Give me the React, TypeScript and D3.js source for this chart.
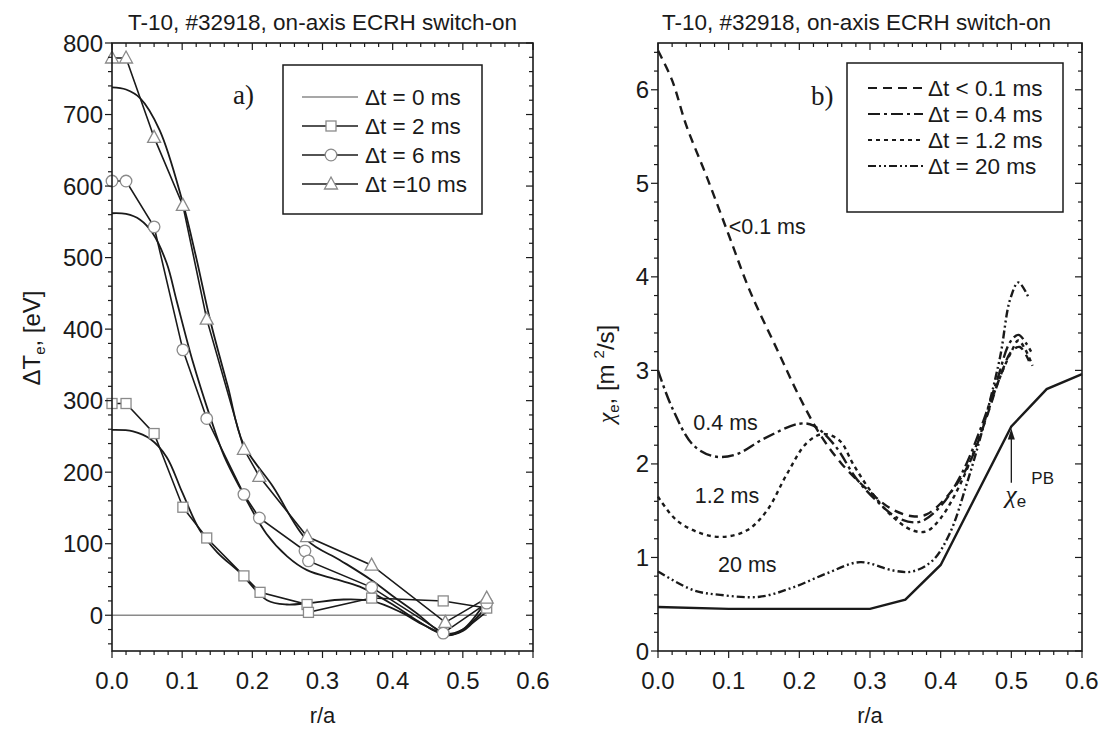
import React from "react";
import * as d3 from "d3";

const W = 1109;
const H = 743;

// ---- panel a): r/a vs ΔTe [eV] ----
const dt0Line: [number, number][] = [[0, 0], [0.534, 0]];
const dt2Markers: [number, number][] = [
  [0, 296], [0.02, 296], [0.06, 254], [0.101, 151], [0.135, 108], [0.188, 55],
  [0.211, 32], [0.278, 15], [0.28, 4], [0.37, 24], [0.472, 20], [0.534, 10],
];
const dt2Fit: [number, number][] = [
  [0, 259], [0.03, 257], [0.055, 246], [0.078, 221], [0.1, 172], [0.125, 119],
  [0.15, 88], [0.183, 59], [0.221, 21], [0.249, 15], [0.28, 17], [0.33, 22],
  [0.37, 20], [0.41, 5], [0.445, -14], [0.475, -26], [0.5, -20], [0.534, 12],
];
const dt6Markers: [number, number][] = [
  [0, 607], [0.02, 607], [0.06, 543], [0.101, 371], [0.135, 275], [0.188, 169],
  [0.21, 136], [0.275, 90], [0.28, 76], [0.37, 39], [0.472, -25], [0.534, 17],
];
const dt6Fit: [number, number][] = [
  [0, 562], [0.02, 561], [0.04, 553], [0.058, 534], [0.078, 492], [0.092, 440],
  [0.115, 355], [0.14, 277], [0.16, 222], [0.182, 179], [0.22, 114], [0.25, 82],
  [0.278, 63], [0.32, 50], [0.353, 40], [0.4, 15], [0.434, -7], [0.46, -22],
  [0.477, -28], [0.5, -22], [0.515, -10], [0.534, 5],
];
const dt10Markers: [number, number][] = [
  [0, 779], [0.02, 779], [0.06, 668], [0.101, 573], [0.135, 414], [0.188, 232],
  [0.21, 194], [0.278, 110], [0.37, 70], [0.475, -10], [0.534, 24],
];
const dt10Fit: [number, number][] = [
  [0, 738], [0.02, 735], [0.04, 723], [0.068, 678], [0.1, 580], [0.12, 500],
  [0.14, 412], [0.165, 320], [0.187, 240], [0.23, 179], [0.278, 105], [0.325, 77],
  [0.37, 49], [0.4, 27], [0.434, 3], [0.46, -18], [0.477, -28], [0.5, -20], [0.534, 21],
];
const legendA = ["\u0394t = 0 ms", "\u0394t = 2 ms", "\u0394t = 6 ms", "\u0394t =10 ms"];

// ---- panel b): r/a vs χe [m2/s] ----
const chi01: [number, number][] = [
  [0, 6.42], [0.02, 6.1], [0.04, 5.62], [0.07, 5.05], [0.1, 4.45], [0.13, 3.85],
  [0.17, 3.2], [0.2, 2.72], [0.229, 2.32], [0.26, 2.0], [0.3, 1.7], [0.33, 1.52],
  [0.36, 1.44], [0.38, 1.46], [0.41, 1.66], [0.44, 2.0], [0.465, 2.5], [0.485, 2.95],
  [0.5, 3.2], [0.512, 3.25], [0.525, 3.1],
];
const chi04: [number, number][] = [
  [0, 3.0], [0.02, 2.6], [0.05, 2.2], [0.08, 2.08], [0.11, 2.1], [0.15, 2.27],
  [0.2, 2.43], [0.22, 2.41], [0.25, 2.2], [0.28, 1.85], [0.31, 1.6], [0.34, 1.42],
  [0.37, 1.38], [0.4, 1.55], [0.43, 1.9], [0.46, 2.45], [0.48, 2.9], [0.498, 3.3],
  [0.51, 3.38], [0.52, 3.3], [0.528, 3.2],
];
const chi12: [number, number][] = [
  [0, 1.65], [0.026, 1.4], [0.06, 1.26], [0.092, 1.22], [0.126, 1.29], [0.154, 1.5],
  [0.183, 1.9], [0.21, 2.22], [0.233, 2.32], [0.257, 2.25], [0.276, 2.0], [0.3, 1.72],
  [0.33, 1.45], [0.36, 1.29], [0.38, 1.28], [0.4, 1.42], [0.43, 1.82], [0.46, 2.4],
  [0.48, 2.85], [0.5, 3.2], [0.51, 3.32], [0.52, 3.22], [0.53, 3.05],
];
const chi20: [number, number][] = [
  [0, 0.85], [0.05, 0.65], [0.088, 0.6], [0.144, 0.58], [0.191, 0.68], [0.239, 0.83],
  [0.286, 0.95], [0.333, 0.86], [0.36, 0.85], [0.389, 0.97], [0.413, 1.26],
  [0.437, 1.79], [0.46, 2.39], [0.484, 3.14], [0.498, 3.75], [0.51, 3.94], [0.525, 3.77],
];
const chiPB: [number, number][] = [
  [0, 0.47], [0.1, 0.45], [0.2, 0.45], [0.3, 0.45], [0.35, 0.55], [0.4, 0.92],
  [0.5, 2.4], [0.55, 2.8], [0.6, 2.96],
];
const legendB = ["\u0394t < 0.1 ms", "\u0394t = 0.4 ms", "\u0394t = 1.2 ms", "\u0394t =  20 ms"];
const curveLabelsB = ["<0.1 ms", "0.4 ms", "1.2 ms", "20 ms"];
const curveLabelPosB: [number, number][] = [[0.1, 4.46], [0.05, 2.36], [0.052, 1.58], [0.085, 0.84]];
const dashesB = ["9 6", "12 4 3 4", "4 4", "8 3 2 3 2 3"];
const pbArrow: [number, number] = [1.8, 2.38]; // χe^PB pointer (from, to) at r/a = 0.5

const xTicks = [0, 0.1, 0.2, 0.3, 0.4, 0.5, 0.6];
const yTicksA = [0, 100, 200, 300, 400, 500, 600, 700, 800];
const yTicksB = [0, 1, 2, 3, 4, 5, 6];

const SANS = "'Liberation Sans', Arial, sans-serif";
const SERIF = "'Liberation Serif', 'Times New Roman', serif";
const INK = "#1a1a1a";
const GREY = "#8a8a8a";

type Scale = d3.ScaleLinear<number, number>;

function Frame({ x, y, yTicks, yMinorStep }: { x: Scale; y: Scale; yTicks: number[]; yMinorStep: number }) {
  const [xl, xr] = x.range();
  const [yb, yt] = y.range();
  const xMinor = d3.range(0, 0.6001, 0.02);
  const [d0, d1] = y.domain();
  const yMinor = d3.range(Math.ceil(d0 / yMinorStep) * yMinorStep, d1 + 1e-6, yMinorStep);
  const isMajorX = (v: number) => Math.abs(v * 10 - Math.round(v * 10)) < 1e-6;
  const isMajorY = (v: number) => yTicks.some((t) => Math.abs(t - v) < 1e-6);
  return (
    <g stroke={INK}>
      <rect x={xl} y={yt} width={xr - xl} height={yb - yt} fill="none" strokeWidth={1.6} />
      {xMinor.map((v, i) => {
        const L = isMajorX(v) ? 7 : 4;
        const px = x(v);
        return (
          <g key={"x" + i} strokeWidth={1.2}>
            <line x1={px} x2={px} y1={yb} y2={yb + L} />
            <line x1={px} x2={px} y1={yt} y2={yt + L} />
          </g>
        );
      })}
      {yMinor.map((v, i) => {
        const L = isMajorY(v) ? 7 : 4;
        const py = y(v);
        return (
          <g key={"y" + i} strokeWidth={1.2}>
            <line x1={xl - L} x2={xl} y1={py} y2={py} />
            <line x1={xr - L} x2={xr} y1={py} y2={py} />
          </g>
        );
      })}
      <g stroke="none" fill={INK} fontFamily={SANS}>
        {xTicks.map((t) => (
          <text key={"xl" + t} x={x(t)} y={yb + 38} textAnchor="middle" fontSize={24}>
            {d3.format(".1f")(t)}
          </text>
        ))}
        {yTicks.map((t) => (
          <text key={"yl" + t} x={xl - 9} y={y(t) + 8.5} textAnchor="end" fontSize={24}>
            {t}
          </text>
        ))}
        <text x={(xl + xr) / 2} y={yb + 72} textAnchor="middle" fontSize={22}>
          r/a
        </text>
      </g>
    </g>
  );
}

function Square({ cx, cy }: { cx: number; cy: number }) {
  return <rect x={cx - 5} y={cy - 5} width={10} height={10} fill="white" stroke={GREY} strokeWidth={1.3} />;
}
function Circle({ cx, cy }: { cx: number; cy: number }) {
  return <circle cx={cx} cy={cy} r={5.8} fill="white" stroke={GREY} strokeWidth={1.3} />;
}
function Triangle({ cx, cy }: { cx: number; cy: number }) {
  return (
    <path
      d={`M${cx},${cy - 7}L${cx + 6.5},${cy + 5}L${cx - 6.5},${cy + 5}Z`}
      fill="white"
      stroke={GREY}
      strokeWidth={1.3}
    />
  );
}

function PanelA() {
  const x = d3.scaleLinear().domain([0, 0.6]).range([112, 533]);
  const y = d3.scaleLinear().domain([-50, 800]).range([651, 43]);
  const straight = d3.line<[number, number]>().x((d) => x(d[0])).y((d) => y(d[1]));
  const smooth = d3
    .line<[number, number]>()
    .x((d) => x(d[0]))
    .y((d) => y(d[1]))
    .curve(d3.curveCatmullRom.alpha(0.5));
  const markerSets = [
    { data: dt2Markers, M: Square },
    { data: dt6Markers, M: Circle },
    { data: dt10Markers, M: Triangle },
  ];
  return (
    <g>
      <text x={128} y={30} fontFamily={SANS} fontSize={22.5} fill={INK}>
        T-10, #32918, on-axis ECRH switch-on
      </text>
      <path d={straight(dt0Line) || ""} stroke={GREY} strokeWidth={1.5} fill="none" />
      {[dt2Fit, dt6Fit, dt10Fit].map((d, i) => (
        <path key={"f" + i} d={smooth(d) || ""} stroke={INK} strokeWidth={1.8} fill="none" />
      ))}
      {markerSets.map((s, i) => (
        <path key={"m" + i} d={straight(s.data) || ""} stroke={INK} strokeWidth={1.6} fill="none" />
      ))}
      {markerSets.map((s, i) =>
        s.data.map((d, j) => <s.M key={i + "-" + j} cx={x(d[0])} cy={y(d[1])} />)
      )}
      <Frame x={x} y={y} yTicks={yTicksA} yMinorStep={20} />
      <text transform="translate(40,338) rotate(-90)" textAnchor="middle" fontFamily={SANS} fontSize={24} fill={INK}>
        {"\u0394T"}
        <tspan fontSize={15} dy={5}>e</tspan>
        <tspan dy={-5}>, [eV]</tspan>
      </text>
      <text x={233} y={104} fontFamily={SERIF} fontSize={27} fill={INK}>
        a)
      </text>
      <g>
        <rect x={283} y={65} width={199} height={149} fill="white" stroke={INK} strokeWidth={1.5} />
        {legendA.map((label, i) => {
          const cy = 97 + i * 29;
          const M = i === 1 ? Square : i === 2 ? Circle : i === 3 ? Triangle : null;
          return (
            <g key={label}>
              <line x1={302} x2={358} y1={cy} y2={cy} stroke={i === 0 ? GREY : INK} strokeWidth={1.5} />
              {M && <M cx={331} cy={cy} />}
              <text x={365} y={cy + 8} fontFamily={SANS} fontSize={22.5} fill={INK}>
                {label}
              </text>
            </g>
          );
        })}
      </g>
    </g>
  );
}

function PanelB() {
  const x = d3.scaleLinear().domain([0, 0.6]).range([658, 1082]);
  const y = d3.scaleLinear().domain([0, 6.5]).range([651, 43]);
  const smooth = d3
    .line<[number, number]>()
    .x((d) => x(d[0]))
    .y((d) => y(d[1]))
    .curve(d3.curveCatmullRom.alpha(0.5));
  const straight = d3.line<[number, number]>().x((d) => x(d[0])).y((d) => y(d[1]));
  const series = [chi01, chi04, chi12, chi20];
  const ax = x(0.5);
  const aFrom = y(pbArrow[0]);
  const aTo = y(pbArrow[1]);
  return (
    <g>
      <text x={662} y={30} fontFamily={SANS} fontSize={22.5} fill={INK}>
        T-10, #32918, on-axis ECRH switch-on
      </text>
      <path d={straight(chiPB) || ""} stroke={INK} strokeWidth={2.4} fill="none" />
      {series.map((d, i) => (
        <path
          key={"s" + i}
          d={smooth(d) || ""}
          stroke={INK}
          strokeWidth={2.4}
          strokeDasharray={dashesB[i]}
          fill="none"
        />
      ))}
      <g fontFamily={SANS} fontSize={21.5} fill={INK}>
        {curveLabelsB.map((t, i) => (
          <text key={t} x={x(curveLabelPosB[i][0])} y={y(curveLabelPosB[i][1])}>
            {t}
          </text>
        ))}
      </g>
      {/* arrow to chi_e^PB */}
      <line x1={ax} x2={ax} y1={aFrom} y2={aTo + 8} stroke={INK} strokeWidth={1.3} />
      <path d={`M${ax},${aTo}L${ax - 3.5},${aTo + 11}L${ax + 3.5},${aTo + 11}Z`} fill={INK} />
      <text x={ax - 6} y={aFrom + 20} fontFamily={SERIF} fontStyle="italic" fontSize={26} fill={INK}>
        {"\u03C7"}
        <tspan fontFamily={SANS} fontStyle="normal" fontSize={17} dy={4}>e</tspan>
      </text>
      <text x={ax + 20} y={aFrom + 1} fontFamily={SANS} fontSize={17} fill={INK}>
        PB
      </text>
      <Frame x={x} y={y} yTicks={yTicksB} yMinorStep={0.2} />
      <text transform="translate(614,374) rotate(-90)" textAnchor="middle" fontFamily={SANS} fontSize={24} fill={INK}>
        <tspan fontFamily={SERIF} fontStyle="italic">{"\u03C7"}</tspan>
        <tspan fontSize={15} dy={5}>e</tspan>
        <tspan dy={-5}>, [m</tspan>
        <tspan fontSize={15} dx={6} dy={-10}>2</tspan>
        <tspan dy={10}>/s]</tspan>
      </text>
      <text x={811} y={105} fontFamily={SERIF} fontSize={27} fill={INK}>
        b)
      </text>
      <g>
        <rect x={847} y={63} width={216} height={149} fill="white" stroke={INK} strokeWidth={1.5} />
        {legendB.map((label, i) => {
          const cy = 88 + i * 26;
          return (
            <g key={label}>
              <line x1={868} x2={923} y1={cy} y2={cy} stroke={INK} strokeWidth={2} strokeDasharray={dashesB[i]} />
              <text x={928} y={cy + 8} fontFamily={SANS} fontSize={22.5} fill={INK}>
                {label}
              </text>
            </g>
          );
        })}
      </g>
    </g>
  );
}

export default function App() {
  return (
    <svg
      width={W}
      height={H}
      viewBox={`0 0 ${W} ${H}`}
      style={{ position: "absolute", left: 0, top: 0, background: "white" }}
    >
      <rect width={W} height={H} fill="white" />
      <PanelA />
      <PanelB />
    </svg>
  );
}
